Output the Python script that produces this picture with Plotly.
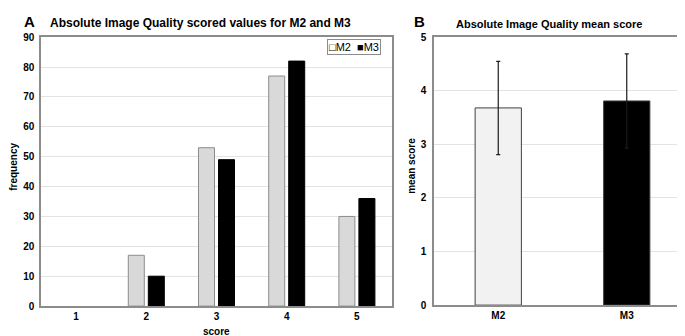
import plotly.graph_objects as go

scores = ["1", "2", "3", "4", "5"]
m2_freq = [0, 17, 53, 77, 30]
m3_freq = [0, 10, 49, 82, 36]

methods = ["M2", "M3"]
mean_scores = [3.68, 3.81]
mean_sd = [0.87, 0.88]

FONT = "Liberation Sans, Arial, sans-serif"
W, H = 685, 336

fig = go.Figure()
fig.add_trace(go.Bar(x=scores, y=m2_freq, name="M2",
                     marker=dict(color="#d9d9d9", line=dict(color="#8c8c8c", width=[0 if v == 0 else 1 for v in m2_freq])),
                     xaxis="x", yaxis="y", showlegend=False))
fig.add_trace(go.Bar(x=scores, y=m3_freq, name="M3",
                     marker=dict(color="#000000", line=dict(color="#000000", width=[0 if v == 0 else 1 for v in m3_freq])),
                     xaxis="x", yaxis="y", showlegend=False))
fig.add_trace(go.Bar(x=methods, y=mean_scores, marker=dict(color=["#f2f2f2", "#000000"], line=dict(color="#404040", width=1)),
                     error_y=dict(type="data", array=mean_sd, color="#1a1a1a", thickness=1.2, width=2),
                     xaxis="x2", yaxis="y2", showlegend=False, width=0.36))

tick_font = dict(family=FONT, size=10, color="#000000")
axis_common = dict(showline=True, linecolor="#8c8c8c", linewidth=1.5, mirror=True, ticks="", tickfont=tick_font,
                   tickprefix="<b>", ticksuffix="</b>")


def ann(text, px, py, size, angle=0):
    return dict(text=text, x=px / W, y=1 - py / H, xref="paper", yref="paper", xanchor="center", yanchor="middle",
                showarrow=False, textangle=angle, font=dict(family=FONT, size=size, color="#000000"))


legend_box = ann("\u25a1M2  \u25a0M3", 346.5, 35.5, 11)
legend_box.update(bordercolor="#8c8c8c", borderwidth=1, borderpad=1, bgcolor="white")

fig.update_layout(
    width=W, height=H,
    margin=dict(l=0, r=0, t=0, b=0),
    paper_bgcolor="white", plot_bgcolor="white",
    barmode="group", bargap=0.43, bargroupgap=0.2,
    font=dict(family=FONT, color="#000000"),
    xaxis=dict(domain=[33 / W, 384 / W], anchor="y", range=[-0.5, 4.5], showgrid=False, ticklabelstandoff=0,
               **axis_common),
    yaxis=dict(domain=[1 - 303 / H, 1 - 25 / H], anchor="x", range=[0, 90], dtick=10, showgrid=True, gridcolor="#e3e3e3",
               ticklabelstandoff=3, **axis_common),
    xaxis2=dict(domain=[426 / W, 683 / W], anchor="y2", range=[-0.5, 1.5], showgrid=False, ticklabelstandoff=0,
                **axis_common),
    yaxis2=dict(domain=[1 - 302 / H, 1 - 25 / H], anchor="x2", range=[0, 5], dtick=1, showgrid=True, gridcolor="#e3e3e3",
                ticklabelstandoff=4, **axis_common),
    annotations=[
        ann("<b>A</b>", 21, 9, 15),
        ann("<b>Absolute Image Quality scored values for M2 and M3</b>", 192, 10, 12),
        ann("<b>B</b>", 411, 9, 15),
        ann("<b>Absolute Image Quality mean score</b>", 541, 11, 11),
        ann("<b>frequency</b>", 6, 159, 10, -90),
        ann("<b>score</b>", 208, 329, 10),
        ann("<b>mean score</b>", 404, 158, 10, -90),
        legend_box,
    ],
)

fig.write_html("out.html")
